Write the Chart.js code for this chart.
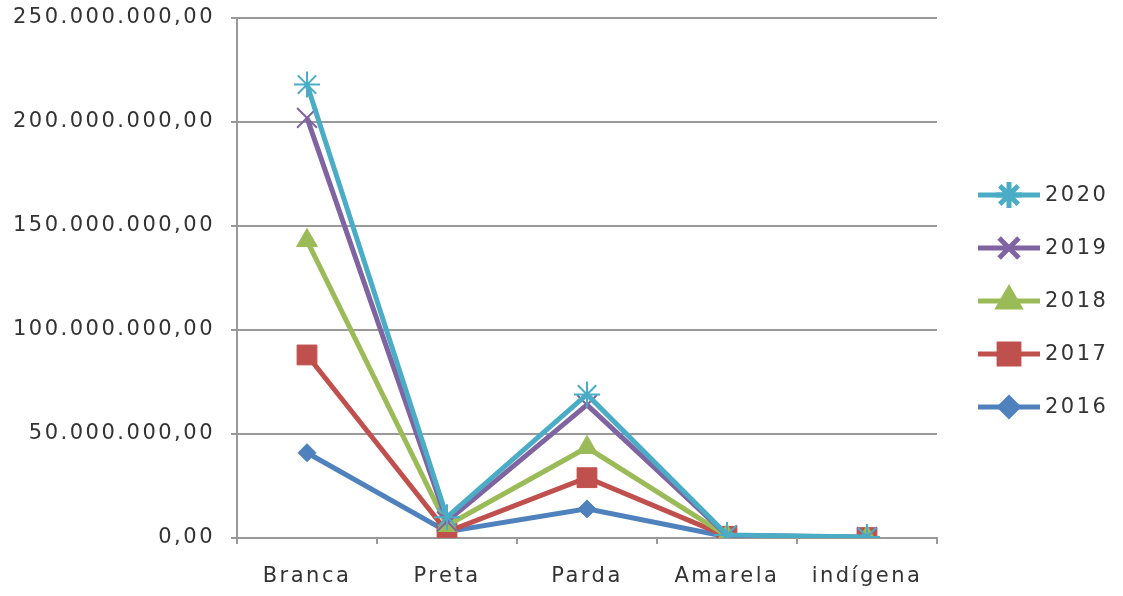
<!DOCTYPE html>
<html>
<head>
<meta charset="utf-8">
<script src="https://cdn.jsdelivr.net/npm/chart.js@4/dist/chart.umd.min.js"></script>
<style>
  html, body { margin: 0; padding: 0; background: #fff; }
  #wrap { width: 1123px; height: 596px; }
</style>
</head>
<body>
<div id="wrap"><canvas id="chart" width="1123" height="596"></canvas></div>
<script>
// categorias e valores
const categorias = ['Branca', 'Preta', 'Parda', 'Amarela', 'indígena'];
const anos = ['2020', '2019', '2018', '2017', '2016'];
const v2020 = [218000000, 10000000, 69000000, 1500000, 500000];
const v2019 = [202000000, 8000000, 64000000, 1300000, 400000];
const v2018 = [143000000, 6000000, 43500000, 1000000, 300000];
const v2017 = [88000000, 3000000, 29000000, 800000, 200000];
const v2016 = [41000000, 3000000, 14000000, 600000, 100000];
const yTicks = [0, 50000000, 100000000, 150000000, 200000000, 250000000];

const cores = ['#4BACC6', '#8064A2', '#9BBB59', '#C0504D', '#4F81BD'];
const marcadores = ['star', 'crossRot', 'triangle', 'rect', 'rectRot'];
const raios = [13, 14, 12, 14, 9];

function formatBR(v) {
    const inteiro = Math.round(v).toString().replace(/\B(?=(\d{3})+(?!\d))/g, '.');
    return inteiro + ',00';
}

const series = [v2020, v2019, v2018, v2017, v2016];
const datasets = series.map((dados, i) => ({
    label: anos[i],
    data: dados,
    borderColor: cores[i],
    backgroundColor: cores[i],
    borderWidth: 5,
    pointStyle: marcadores[i],
    pointRadius: raios[i],
    pointBorderColor: cores[i],
    pointBackgroundColor: cores[i],
    pointBorderWidth: (marcadores[i] === 'star' || marcadores[i] === 'crossRot') ? 2 : 1,
    tension: 0,
    fill: false,
}));

// espaçamento de letras parecido com o original
const espacamento = {
    id: 'espacamento',
    beforeDraw(chart) { chart.ctx.letterSpacing = '2.5px'; }
};

// legenda à direita: linha + marcador + ano
const legendaPlugin = {
    id: 'legendaExcel',
    afterDraw(chart) {
        const ctx = chart.ctx;
        ctx.save();
        chart.data.datasets.forEach((ds, i) => {
            const y = 195 + i * 53;
            ctx.strokeStyle = ds.borderColor;
            ctx.fillStyle = ds.borderColor;
            ctx.lineWidth = 5;
            ctx.beginPath();
            ctx.moveTo(978, y);
            ctx.lineTo(1040, y);
            ctx.stroke();
            Chart.helpers.drawPoint(ctx, {
                pointStyle: ds.pointStyle,
                radius: ds.pointRadius,
                rotation: 0,
                borderWidth: ds.pointBorderWidth,
            }, 1009, y);
            ctx.fillStyle = '#333';
            ctx.font = '21px "DejaVu Sans"';
            ctx.letterSpacing = '2.5px';
            ctx.textAlign = 'left';
            ctx.textBaseline = 'middle';
            ctx.fillText(ds.label, 1045, y + 1);
        });
        ctx.restore();
    }
};

const ctx = document.getElementById('chart').getContext('2d');
const grafico = new Chart(ctx, {
    type: 'line',
    data: { labels: categorias, datasets: datasets },
    plugins: [espacamento, legendaPlugin],
    options: {
        responsive: false,
        animation: false,
        layout: { padding: { top: 18, right: 186, bottom: 0, left: 0 } },
        plugins: {
            legend: { display: false },
            tooltip: { enabled: false },
        },
        scales: {
            x: {
                offset: true,
                grid: {
                    offset: true,
                    drawOnChartArea: false,
                    drawTicks: true,
                    tickLength: 6,
                    color: '#999',
                    lineWidth: 2,
                },
                border: { color: '#999', width: 2 },
                ticks: {
                    color: '#333',
                    font: { family: 'DejaVu Sans', size: 21 },
                    padding: 20,
                    maxRotation: 0,
                },
                afterFit(scale) {
                    scale.height = 58;
                    scale.paddingLeft = 0;
                    scale.paddingRight = 0;
                },
            },
            y: {
                min: 0,
                max: 250000000,
                afterBuildTicks(scale) {
                    scale.ticks = yTicks.map(v => ({ value: v }));
                },
                grid: {
                    color: '#999',
                    lineWidth: 2,
                    tickLength: 6,
                },
                border: { color: '#999', width: 2 },
                ticks: {
                    color: '#333',
                    font: { family: 'DejaVu Sans', size: 21 },
                    padding: 16,
                    callback: v => formatBR(v),
                },
                afterFit(scale) {
                    scale.width = 237;
                    scale.paddingTop = 0;
                    scale.paddingBottom = 0;
                },
            },
        },
    },
});
</script>
</body>
</html>
